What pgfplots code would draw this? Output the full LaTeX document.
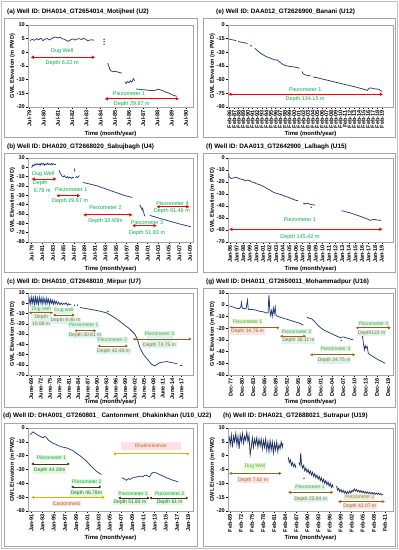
\documentclass[border=0pt]{standalone}
\usepackage{pgfplots}
\pgfplotsset{compat=1.18}
\usepackage{fontspec}
\setmainfont{Liberation Sans}
\usetikzlibrary{arrows.meta}
\definecolor{dblue}{RGB}{36,62,124}
\definecolor{egreen}{RGB}{0,176,80}
\definecolor{arbr}{RGB}{152,96,20}
\definecolor{agold}{RGB}{204,184,10}
\definecolor{aolv}{RGB}{55,60,20}
\definecolor{ngreen}{RGB}{96,168,40}
\definecolor{dbrown}{RGB}{150,110,30}
\definecolor{bgc}{RGB}{218,244,240}
\definecolor{bgp}{RGB}{252,226,226}
\definecolor{bgg}{RGB}{232,246,220}
\definecolor{orng}{RGB}{196,96,30}
\definecolor{frm}{RGB}{165,165,165}
\newcommand{\ann}{\fontsize{5}{5.8}\selectfont}
\newcommand{\annb}{\fontsize{5.5}{6.3}\selectfont}
\tikzset{
 redarr/.style={draw=red, line width=1pt, {Triangle[length=3pt,width=3.2pt]}-{Triangle[length=3pt,width=3.2pt]}},
 brarr/.style={draw=arbr, line width=0.8pt, {Triangle[length=2.6pt,width=2.8pt]}-{Triangle[length=2.6pt,width=2.8pt]}},
 goarr/.style={draw=agold, line width=0.8pt, {Triangle[length=2.6pt,width=2.8pt]}-{Triangle[length=2.6pt,width=2.8pt]}},
 olarr/.style={draw=aolv, line width=0.7pt, {Triangle[length=2.4pt,width=2.6pt]}-{Triangle[length=2.4pt,width=2.6pt]}},
 gtxt/.style={text=egreen, font=\annb, inner sep=0.6pt},
 ntxt/.style={text=ngreen, font=\ann, inner sep=0.8pt},
 dtxt/.style={text=dbrown, font=\ann, inner sep=0.8pt},
 ttl/.style={anchor=west, font=\fontsize{6.4}{7.5}\selectfont\bfseries, inner sep=0pt},
}
\pgfplotsset{
 panel/.style={
  scale only axis, width=165bp, height=82bp,
  anchor=south west, clip=false,
  axis line style={draw=frm, line width=0.4pt},
  tick align=outside, tick pos=left, major tick length=1.8bp,
  major tick style={black, line width=0.4pt},
  /pgf/number format/assume math mode=true,
  tick label style={font=\fontsize{5.6}{6.5}\selectfont\bfseries},
  xticklabel style={rotate=90, anchor=east, inner sep=1.2pt},
  yticklabel style={inner sep=1.2pt},
  xlabel={Time (month/year)},
  ylabel={GWL Elevation (m PWD)},
  every axis x label/.style={at={(axis description cs:0.5,0)}, yshift=-26.5bp, anchor=center, font=\fontsize{6}{7}\selectfont\bfseries},
  every axis y label/.style={at={(axis description cs:0,0.5)}, xshift=-15.5bp, rotate=90, anchor=center, font=\fontsize{5.6}{7}\selectfont\bfseries},
 },
 ser/.style={color=dblue, line width=0.75pt, mark=none},
 dots/.style={color=dblue, only marks, mark=*, mark size=0.45pt},
}
\begin{document}
\begin{tikzpicture}
\useasboundingbox (0,0) rectangle (399bp,-550bp);
\fill[white] (0,0) rectangle (399bp,-550bp);
% frames
\draw[frm!70, line width=0.5pt] (1.5bp,-1.5bp) rectangle (397.5bp,-548.5bp);
\foreach \t/\b in {18/137,153/272,288/407,423/546}{
 \draw[frm, line width=0.5pt] (4bp,-\t bp) rectangle (197bp,-\b bp);
 \draw[frm, line width=0.5pt] (203bp,-\t bp) rectangle (395bp,-\b bp);
}
% titles
\node[ttl] at (7bp,-12bp) {(a) Well ID: DHA014\_GT2654014\_Motijheel (U2)};
\node[ttl] at (216bp,-12bp) {(e) Well ID: DAA012\_GT2626900\_Banani (U12)};
\node[ttl] at (7bp,-147bp) {(b) Well ID: DHA020\_GT2668020\_Sabujbagh (U4)};
\node[ttl] at (206bp,-147bp) {(f) Well ID: DAA013\_GT2642900\_Lalbagh (U15)};
\node[ttl] at (7bp,-282bp) {(c) Well ID: DHA010\_GT2648010\_Mirpur (U7)};
\node[ttl] at (206bp,-282bp) {(g) Well ID: DHA011\_GT2650011\_Mohammadpur (U16)};
\node[ttl] at (3bp,-416bp) {(d) Well ID: DHA001\_GT260801\_ Cantonment\_Dhakinkhan (U10\_U22)};
\node[ttl] at (223bp,-416bp) {(h) Well ID: DHA021\_GT2688021\_Sutrapur (U19)};

% ---------------- (a)
\begin{axis}[panel, at={(28bp,-107bp)}, xmin=1979.4, xmax=1991, ymin=-20, ymax=10,
 ytick={-20,-15,...,10}, xtick={1979.5,1980.5,...,1990.5},
 xticklabels={Jul-79,Jul-80,Jul-81,Jul-82,Jul-83,Jul-84,Jul-85,Jul-86,Jul-87,Jul-88,Jul-89,Jul-90}]
\addplot[ser] coordinates {(1979.55,4.3)(1979.7,4.8)(1979.85,4.4)(1980.0,5.0)(1980.15,4.6)(1980.3,5.2)(1980.45,4.3)(1980.6,4.8)(1980.75,5.1)(1980.9,4.5)(1981.05,5.0)(1981.2,5.4)(1981.35,5.6)(1981.5,5.3)(1981.65,5.5)(1981.8,5.0)(1981.95,4.8)(1982.1,4.4)(1982.25,4.0)(1982.4,4.6)(1982.55,4.9)(1982.7,4.5)(1982.85,4.9)(1983.0,5.0)(1983.15,4.7)(1983.3,5.1)(1983.45,4.8)(1983.6,4.2)(1983.75,4.5)(1983.9,4.6)(1984.05,4.4)};
\addplot[dots] coordinates {(1984.75,4.8)(1984.75,3.9)(1984.75,3.0)};
\addplot[ser] coordinates {(1985.0,-4.0)(1985.08,-5.0)(1985.15,-6.2)(1985.25,-6.8)(1985.4,-7.1)(1985.55,-6.9)(1985.7,-7.2)(1985.85,-7.4)(1986.0,-7.6)};
\addplot[ser] coordinates {(1986.22,-10.8)(1986.3,-11.4)(1986.4,-10.7)(1986.5,-11.1)(1986.6,-10.4)(1986.7,-10.9)(1986.8,-9.6)(1986.9,-10.4)};
\addplot[ser] coordinates {(1987.0,-13.4)(1987.3,-13.6)(1987.6,-13.7)(1987.9,-13.9)(1988.2,-14.0)(1988.4,-13.8)(1988.55,-13.5)(1988.7,-13.7)(1988.9,-14.1)(1989.1,-14.6)(1989.3,-14.9)(1989.45,-15.3)(1989.6,-15.7)(1989.75,-15.9)(1989.85,-16.1)};
\draw[redarr] (1979.6,-1.8) -- (1984.1,-1.8);
\node[gtxt] at (1981.8,0.4) {Dug Well};
\node[gtxt] at (1981.8,-3.9) {Depth 6.22 m};
\draw[redarr] (1984.8,-17) -- (1990.0,-17);
\node[gtxt] at (1986.5,-15.1) {Piezometer 1};
\node[gtxt] at (1986.7,-19.1) {Depth 29.87 m};
\end{axis}

% ---------------- (e)
\begin{axis}[panel, at={(228bp,-107bp)}, xmin=1985.8, xmax=2021.5, ymin=-90, ymax=0,
 ytick={-90,-75,...,0}, xtick={1986.1,1987.1,...,2019.1},
 xticklabels={Feb-86,Feb-87,Feb-88,Feb-89,Feb-90,Feb-91,Feb-92,Feb-93,Feb-94,Feb-95,Feb-96,Feb-97,Feb-98,Feb-99,Feb-00,Feb-01,Feb-02,Feb-03,Feb-04,Feb-05,Feb-06,Feb-07,Feb-08,Feb-09,Feb-10,Feb-11,Feb-12,Feb-13,Feb-14,Feb-15,Feb-16,Feb-17,Feb-18,Feb-19}]
\addplot[ser] coordinates {(1985.9,-15.2)(1986.3,-15.8)(1986.8,-16.3)(1987.3,-16.8)(1987.6,-17.2)};
\addplot[ser] coordinates {(1988.0,-18.0)(1988.5,-18.8)(1989.0,-19.0)(1989.5,-19.6)(1990.0,-20.5)};
\addplot[ser] coordinates {(1990.6,-22)(1991.0,-23.5)};
\addplot[ser] coordinates {(1991.6,-25.5)(1992.0,-27.5)(1992.5,-29.5)(1993.0,-31.5)(1993.5,-33)(1994.0,-34.5)(1994.5,-35.5)(1995.0,-36.5)(1995.5,-37.5)(1996.0,-38.5)(1996.4,-38.2)(1996.8,-40)(1997.2,-41.5)(1997.6,-43)(1998.0,-44)(1998.5,-44.8)(1999.0,-45.3)(1999.5,-45.6)(2000.0,-46)(2000.5,-46.5)(2001.0,-47)(2001.3,-47.5)};
\addplot[ser] coordinates {(2001.8,-51)(2002.0,-53)(2002.3,-54.3)(2002.7,-55)(2003.2,-55.5)(2003.7,-56)};
\addplot[ser] coordinates {(2004.2,-57)(2004.7,-57.5)(2005.2,-58)(2005.7,-58.7)(2006.2,-59.3)(2006.7,-59.8)(2007.2,-60.5)(2007.7,-61)(2008.2,-61.7)(2008.7,-62.3)(2009.2,-63)(2009.7,-63.5)(2010.2,-64.2)(2010.7,-64.8)(2011.2,-65.5)(2011.7,-66)(2012.2,-66.6)(2012.7,-67.2)(2013.2,-67.8)(2013.7,-68.5)(2014.2,-69.2)(2014.7,-69.8)(2015.2,-70.5)(2015.6,-71.2)(2016.0,-71.8)(2016.2,-70)(2016.5,-69)(2016.9,-69.3)(2017.3,-69.8)(2017.7,-70.2)(2018.1,-70.3)(2018.5,-70.8)(2018.8,-71.8)(2019.1,-73)};
\draw[redarr] (1985.9,-76) -- (2019.3,-76);
\node[gtxt] at (2002.5,-70.6) {Piezometer 1};
\node[gtxt] at (2002.5,-81.7) {Depth 134.15 m};
\end{axis}

% ---------------- (b)
\begin{axis}[panel, at={(28bp,-242bp)}, height=84bp, xmin=1978.8, xmax=2010.1, ymin=-80, ymax=10,
 ytick={-80,-70,...,10}, xtick={1979.5,1981.5,...,2009.5},
 xticklabels={Jul-79,Jul-81,Jul-83,Jul-85,Jul-87,Jul-89,Jul-91,Jul-93,Jul-95,Jul-97,Jul-99,Jul-01,Jul-03,Jul-05,Jul-07,Jul-09}]
\addplot[ser] coordinates {(1979.5,-0.5)(1979.7,2.5)(1979.9,1.5)(1980.1,3.5)(1980.3,2.5)(1980.5,4)(1980.7,2.8)(1980.9,3.8)(1981.1,2.2)(1981.3,4.5)(1981.5,3.2)(1981.7,4)(1981.9,2.2)(1982.1,3.5)(1982.3,2.8)(1982.5,4.5)(1982.7,3)(1982.9,3.8)(1983.1,2.6)(1983.3,4.2)(1983.5,3.0)(1983.7,3.8)(1983.9,2.8)(1984.1,3.4)};
\addplot[ser] coordinates {(1984.7,-3)(1984.9,-6)(1985.1,-8)(1985.3,-9.5)(1985.5,-10)(1985.7,-9)(1985.9,-10.5)(1986.1,-11)(1986.3,-10)(1986.5,-11.5)(1986.7,-10.5)(1986.9,-11)(1987.1,-12)(1987.3,-10.5)(1987.5,-11)};
\addplot[dots] coordinates {(1987.65,-2)(1987.65,-4)};
\addplot[ser] coordinates {(1987.8,-11)(1988.0,-10)(1988.2,-11)(1988.4,-9.5)(1988.6,-9)};
\addplot[ser] coordinates {(1989.2,-16.2)(1990,-17.2)(1991,-18.5)(1992,-20)(1993,-22)(1994,-24)(1995,-26)(1996,-28)(1997,-30)(1998,-31.5)(1998.6,-32.3)};
\addplot[ser] coordinates {(2000.0,-40)(2000.15,-42)(2000.3,-43.5)(2000.45,-45.5)(2000.55,-44)(2000.7,-47.5)(2000.85,-50.5)(2000.95,-52.5)};
\addplot[ser] coordinates {(2001.9,-51.5)(2003,-53.3)(2004,-55)(2005,-56.6)(2006,-58.2)(2007,-59.8)(2008,-61.3)(2009,-62.7)(2009.7,-63.6)};
\draw[redarr] (1979.5,-12.5) -- (1984.2,-12.5);
\node[gtxt] at (1981.7,-7.3) {Dug Well};
\node[gtxt] at (1981.1,-16.5) {Depth};
\node[gtxt] at (1981.5,-25.2) {6.78 m};
\draw[redarr] (1984.2,-30.4) -- (1988.7,-30.4);
\node[gtxt] at (1987.0,-23.6) {Piezometer 1};
\node[gtxt] at (1986.8,-36) {Depth 29.87 m};
\draw[redarr] (1989.3,-51) -- (1998.6,-51);
\node[gtxt] at (1993.5,-43.2) {Piezometer 2};
\node[gtxt] at (1993.5,-57.2) {Depth 32.93m};
\draw[redarr] (1998.6,-62.5) -- (2003.2,-62.5);
\node[gtxt] at (2001.4,-59) {Piezometer 3};
\node[gtxt] at (2001.4,-70.7) {Depth 51.83 m};
\draw[redarr] (2003.2,-42.2) -- (2009.4,-42.2);
\node[gtxt] at (2006.2,-38.4) {Piezometer 4};
\node[gtxt] at (2006.1,-46.6) {Depth 91.46 m};
\end{axis}

% ---------------- (f)
\begin{axis}[panel, at={(228bp,-242bp)}, height=84bp, xmin=1995.7, xmax=2020.7, ymin=-70, ymax=0,
 ytick={-70,-60,...,0}, xtick={1996,1997,...,2019},
 xticklabels={Jan-96,Jan-97,Jan-98,Jan-99,Jan-00,Jan-01,Jan-02,Jan-03,Jan-04,Jan-05,Jan-06,Jan-07,Jan-08,Jan-09,Jan-10,Jan-11,Jan-12,Jan-13,Jan-14,Jan-15,Jan-16,Jan-17,Jan-18,Jan-19}]
\addplot[ser] coordinates {(1995.8,-13)(1995.9,-16)(1996.2,-17)(1996.6,-16.5)(1997.0,-16)(1997.3,-17)(1997.6,-17.5)(1998.0,-18)(1998.3,-19)(1998.6,-18.5)(1999.0,-18.8)(1999.3,-20)(1999.7,-20.5)(2000.0,-21.5)(2000.4,-22)(2000.8,-23)(2001.2,-24)(2001.6,-25.5)(2002.0,-26.5)(2002.4,-28)(2002.8,-29)(2003.2,-29.7)(2003.6,-30.3)(2004.0,-31)(2004.4,-32)(2004.8,-32.7)(2005.2,-33.5)(2005.6,-34.5)(2006.0,-35.3)(2006.3,-35.5)};
\addplot[ser] coordinates {(2007.1,-37.5)(2007.4,-38.3)(2007.7,-37.6)(2008.0,-38.2)(2008.3,-38.8)(2008.6,-39)(2008.9,-39.3)};
\addplot[dots] coordinates {(2008.3,-41)};
\addplot[ser] coordinates {(2012.9,-44)(2013.3,-44.3)(2013.7,-45)(2014.1,-45.5)(2014.5,-46.3)(2014.9,-47)(2015.3,-47.8)(2015.7,-48.5)(2016.1,-49.3)(2016.5,-50.2)(2016.9,-51)(2017.2,-52)(2017.5,-51.5)(2017.8,-51.2)(2018.1,-51.4)(2018.5,-51.8)(2018.9,-52)};
\draw[redarr] (1995.9,-59.4) -- (2019.1,-59.4);
\node[gtxt] at (2006.6,-51) {Piezometer 1};
\node[gtxt] at (2006.6,-65.6) {Depth 145.42 m};
\end{axis}

% ---------------- (c)
\begin{axis}[panel, at={(28bp,-375bp)}, xmin=1968.4, xmax=2021.1, ymin=-70, ymax=10,
 ytick={-70,-60,...,10}, xtick={1969.45,1972.45,...,2017.45},
 xticklabels={June-69,June-72,June-75,June-78,June-81,June-84,June-87,June-90,June-93,June-96,June-99,June-02,June-05,June-08,June-11,June-14,June-17}]
\node[fill=bgc, minimum width=26bp, minimum height=12bp, inner sep=0pt] at (2010.4,-35) {};
\addplot[ser] coordinates {(1968.7,-1)(1969.0,5)(1969.3,-1)(1969.6,6)(1969.9,0)(1970.2,5.5)(1970.5,-1.5)(1970.8,6)(1971.1,0)(1971.4,5)(1971.7,-2)(1972.0,6)(1972.3,0.5)(1972.6,5)(1972.9,-1)(1973.2,5.5)(1973.5,0)(1973.8,4.5)(1974.1,-1)(1974.4,5)(1974.7,0)(1975.0,4)(1975.3,-1)(1975.6,3.5)(1975.9,0)(1976.2,3)(1976.5,-1)(1976.8,2.5)(1977.1,-0.5)(1977.4,2)(1977.8,-1)(1978.2,1)(1978.6,-1.5)(1979,0.5)(1979.4,-1.5)(1979.8,0)(1980.2,-1)(1980.6,0.5)(1981,-2)(1981.4,-0.5)(1981.8,-1.5)(1982.2,-1)};
\addplot[dots] coordinates {(1983.3,-2)(1984.2,-1.8)};
\addplot[ser] coordinates {(1985.0,-4)(1985.45,-4.4)(1987.3,-5.4)(1989.2,-6.4)(1991.3,-7.7)(1993.45,-9.3)(1995.0,-12)(1996.65,-15.2)(1998.8,-20.2)(2000.9,-25.1)(2002.5,-30)(2003.3,-34.9)(2004.1,-43.1)(2005.2,-49.7)(2006.8,-55.6)(2007.85,-59.5)(2008.9,-61.1)(2010.5,-57.9)(2012.65,-56.9)(2014.8,-58.2)(2016.0,-58.9)};
\addplot[ser] coordinates {(2016.9,-60.8)(2017.8,-60.5)};
\addplot[dots] coordinates {(1993.9,-8)};
\draw[brarr] (1968.7,-9.2) -- (1976.4,-9.2);
\node[ntxt, fill=bgc] at (1972.6,-5.4) {Dug well};
\node[dtxt, fill=bgc, align=center] at (1972.6,-16.2) {Depth\\[1bp]10.68 m};
\draw[brarr] (1976.4,-11.5) -- (1983.3,-11.5);
\node[ntxt, fill=bgc] at (1979.9,-7.2) {Dug well};
\node[dtxt, fill=bgc] at (1980.4,-17) {Depth 9.48 m};
\draw[brarr] (1983.3,-26.8) -- (1990.2,-26.8);
\node[ntxt, fill=bgc] at (1986.2,-21.2) {Piezometer 1};
\node[dtxt, fill=bgc] at (1986.6,-31) {Depth 30.81 m};
\draw[brarr] (1990.7,-41.7) -- (2000.3,-41.7);
\node[ntxt, fill=bgc] at (1995.3,-35.9) {Piezometer 2};
\node[dtxt, fill=bgc] at (1995.7,-46.6) {Depth 42.48 m};
\draw[brarr] (2001.9,-34.9) -- (2020.6,-34.9);
\node[ntxt, fill=bgc] at (2010.4,-29.3) {Piezometer 3};
\node[dtxt, fill=bgc] at (2010.4,-40.7) {Depth 74.75 m};
\end{axis}

% ---------------- (g)
\begin{axis}[panel, at={(228bp,-375bp)}, xmin=1977.2, xmax=2021.2, ymin=-60, ymax=10,
 ytick={-60,-50,...,10}, xtick={1977.95,1980.95,...,2019.95},
 xticklabels={Dec-77,Dec-80,Dec-83,Dec-86,Dec-89,Dec-92,Dec-95,Dec-98,Dec-01,Dec-04,Dec-07,Dec-10,Dec-13,Dec-16,Dec-19}]
\addplot[ser] coordinates {(1977.6,-1)(1978.5,-2)(1979.5,-3)(1980.2,-3.5)(1980.6,-2)(1980.8,2)(1981,-3)(1982,-3.5)(1982.4,4)(1982.6,-4)(1983.5,-4)(1984.5,-4.5)(1985.5,-5.5)(1986.5,-6)(1987.5,-7)(1987.9,-7)(1988.0,2)(1988.1,8)(1988.2,5)(1988.3,-2)(1988.5,-9)(1988.8,-5)(1989,-10)(1989.3,-3)(1989.5,-8)(1989.8,-2)(1990,-9)(1990.5,-10)(1991.5,-11)(1992.5,-12)(1993.5,-13)(1994.5,-14)(1995.5,-15)(1996.5,-16)(1997.3,-17.5)};
\addplot[ser] coordinates {(1998.2,-10.5)(1998.8,-11.5)(1999.5,-12)(2000.2,-14)(2001,-17)(2002,-20)(2003,-22)(2004,-23.5)(2005,-25)(2006,-26.5)(2007,-28)(2008,-27.5)(2009,-28.5)(2010,-29.5)(2010.6,-30)};
\addplot[dots] coordinates {(2007.4,-30.5)};
\addplot[ser] coordinates {(2012.9,-28)(2013.1,-27)(2013.3,-33)(2013.6,-38.4)(2013.8,-35)(2014.0,-37)(2014.3,-35.5)(2014.6,-41.3)(2015,-42.5)(2016,-44.5)(2017,-46.5)(2018.2,-48.5)(2019.1,-50)};
\draw[brarr] (1977.6,-19.7) -- (1990.9,-19.7);
\node[ntxt, fill=bgg] at (1982.4,-14.5) {Piezometer 1};
\node[dtxt, fill=bgp] at (1982.4,-22.8) {Depth 34.76 m};
\draw[brarr] (1991.1,-26.9) -- (1998.0,-26.9);
\node[ntxt, fill=bgc] at (1995.5,-23.1) {Piezometer 2};
\node[dtxt, fill=bgc] at (1996.0,-30.6) {Depth 38.11 m};
\draw[brarr] (1999.1,-42.7) -- (2011.1,-42.7);
\node[ntxt, fill=bgc] at (2005.9,-37.6) {Piezometer 3};
\node[dtxt, fill=bgc] at (2005.5,-47.6) {Depth 34.75 m};
\draw[brarr] (2011.3,-19.7) -- (2020.6,-19.7);
\node[ntxt, fill=bgc] at (2016,-16.2) {Piezometer 4};
\node[dtxt, fill=bgc] at (2015.5,-24) {Depth122 m};
\end{axis}

% ---------------- (d)
\begin{axis}[panel, at={(28bp,-511bp)}, height=83bp, xmin=1990.4, xmax=2019.85, ymin=-60, ymax=0,
 ytick={-60,-50,...,0}, xtick={1991,1993,...,2019},
 xticklabels={Jan-91,Jan-93,Jan-95,Jan-97,Jan-99,Jan-01,Jan-03,Jan-05,Jan-07,Jan-09,Jan-11,Jan-13,Jan-15,Jan-17,Jan-19}]
\node[fill=bgp, minimum width=60bp, minimum height=8bp, inner sep=0pt] at (2012.3,-12.8) {};
\addplot[ser] coordinates {(1990.8,-4.7)(1991.0,-4.0)(1991.3,-2.8)(1991.55,-3.5)(1991.8,-4.2)(1992.1,-5.0)(1992.5,-5.9)(1992.8,-6.6)(1993.1,-7.1)(1993.35,-6.2)(1993.6,-6.4)(1994.0,-8.6)(1994.4,-9.8)(1994.9,-11.1)(1995.3,-11.6)(1995.8,-12.8)(1996.2,-13.2)(1996.65,-13.9)(1997.1,-14.2)(1997.5,-14.7)(1998.1,-15.8)(1998.5,-16.5)(1999.0,-18.2)(1999.6,-19.8)(2000.2,-21.7)(2000.8,-23.8)(2001.4,-26.5)(2002.0,-28.8)(2002.6,-31.2)(2003.1,-32.6)(2003.5,-33.6)};
\addplot[ser] coordinates {(2007.1,-35.9)(2007.5,-36.6)(2008.0,-37.8)(2008.3,-36.5)(2008.6,-37.2)(2008.9,-36.4)(2009.3,-35.6)(2009.75,-35.5)(2010.1,-35.0)(2010.6,-34.8)(2010.9,-35.4)(2011.2,-34.3)(2011.5,-34.0)(2011.8,-34.8)(2012.1,-35.3)(2012.4,-33.2)(2012.6,-32.4)(2013.0,-31.9)(2013.4,-32.7)(2013.9,-33.6)(2014.5,-34.8)(2015.1,-35.9)(2015.7,-36.9)(2016.3,-37.8)(2016.8,-38.4)(2017.2,-39.0)};
\draw[goarr] (2005.6,-18.7) -- (2019.2,-18.7);
\node[text=orng, font=\ann] at (2012.3,-12.8) {Dhakhinkahan};
\draw[olarr] (1991.0,-26) -- (1997.85,-26);
\node[text=egreen, font=\ann, fill=bgg, inner sep=0.8pt] at (1994.6,-21.3) {Piezometer 1};
\node[text=egreen!70!black, font=\ann, fill=bgg, inner sep=0.8pt] at (1994.3,-30.7) {Depth 44.20m};
\draw[olarr] (1998.1,-42.6) -- (2003.5,-42.6);
\node[text=egreen, font=\ann, fill=bgg, inner sep=0.8pt] at (2000.9,-38.8) {Piezometer 2};
\node[text=egreen!70!black, font=\ann, fill=bgg, inner sep=0.8pt] at (2000.8,-47.3) {Depth 46.78m};
\draw[goarr] (1991.0,-50.1) -- (2004.1,-50.1);
\node[text=orng, font=\ann, fill=bgp, inner sep=0.8pt] at (1997.25,-54.8) {Cantonment};
\draw[olarr] (2006.5,-50.6) -- (2012.1,-50.6);
\node[text=egreen, font=\ann, fill=bgg, inner sep=0.8pt] at (2009.15,-47.3) {Piezometer 1};
\node[text=egreen!70!black, font=\ann, fill=bgg, inner sep=0.8pt] at (2008.6,-53.7) {Depth 51.83 m};
\draw[olarr] (2012.1,-50.6) -- (2019.0,-50.6);
\node[text=egreen, font=\ann, fill=bgg, inner sep=0.8pt] at (2015.7,-47.3) {Piezometer 2};
\node[text=egreen!70!black, font=\ann, fill=bgg, inner sep=0.8pt] at (2015.7,-53.7) {Depth 61 m};
\end{axis}

% ---------------- (h)
\begin{axis}[panel, at={(228bp,-511bp)}, height=83bp, xmin=1968.6, xmax=2013.3, ymin=-20, ymax=10,
 ytick={-20,-15,...,10}, xtick={1969.1,1972.1,...,2011.1},
 xticklabels={Feb-69,Feb-72,Feb-75,Feb-78,Feb-81,Feb-84,Feb-87,Feb-90,Feb-93,Feb-96,Feb-99,Feb-02,Feb-05,Feb-08,Feb-11}]
\addplot[ser, color=dblue!80!black] coordinates {(1968.9,7)(1969.2,4)(1969.5,7.5)(1969.8,3)(1970.1,7)(1970.4,5)(1970.7,8)(1971.0,4)(1971.3,7)(1971.6,2.5)(1971.9,7.5)(1972.2,5)(1972.5,8)(1972.8,4.5)(1973.1,7)(1973.4,5.5)(1973.7,8.5)(1974.0,5)(1974.3,7.5)(1974.6,0.3)(1974.9,3)(1975.2,6.5)(1975.5,3)(1975.8,6)(1976.1,4)(1976.4,6.5)(1976.7,3)(1977.0,6)(1977.3,3.5)(1977.6,6)(1977.9,2.5)(1978.2,5.5)(1978.5,3)(1978.8,6)(1979.1,2)(1979.4,5)(1979.7,1.5)(1980.0,5.5)(1980.3,2)(1980.6,5)(1980.9,1)(1981.2,4.5)(1981.5,2)(1981.8,5)(1982.1,1.5)(1982.4,4)(1982.7,2.5)(1983.0,5)(1983.3,3)(1983.5,4.5)};
\addplot[ser, color=dblue!80!black] coordinates {(1984.9,-0.5)(1985.2,-2.5)(1985.5,-1.5)(1985.8,-3.5)(1986.1,-2.5)(1986.4,-4)(1986.7,-3)(1987.0,-4.5)};
\addplot[ser, color=dblue!80!black] coordinates {(1987.8,-2.5)(1988.1,-3.5)(1988.3,1)(1988.5,-3)(1988.8,-4.5)(1989.1,-3.5)(1989.4,-5.5)(1989.7,-4.5)(1990.0,-6)(1990.3,-5)(1990.6,-6.5)(1990.9,-5.5)(1991.2,-7)(1991.5,-6)(1991.8,-7.5)(1992.1,-6.5)(1992.4,-8)(1992.7,-7)(1993.0,-8.5)(1993.3,-7.5)(1993.6,-9)(1993.9,-8)(1994.2,-9.5)(1994.5,-8.5)(1994.8,-10)(1995.1,-9)(1995.4,-10.5)(1995.7,-9.5)(1996.0,-11)(1996.3,-10)(1996.6,-11.5)(1996.9,-10.5)(1997.1,-11.5)};
\addplot[dots] coordinates {(1989.2,-8.2)};
\addplot[ser, color=dblue!80!black] coordinates {(1998.0,-11)(1998.3,-12.5)(1998.6,-11.8)(1998.9,-13)(1999.2,-12.2)(1999.5,-13.3)(1999.8,-12.5)(2000.1,-13.5)(2000.4,-12.8)(2000.7,-13.8)(2001.0,-13)(2001.3,-13.6)(2001.6,-12.7)(2001.9,-13.5)(2002.2,-12.5)(2002.5,-13)(2002.8,-12)(2003.1,-12.8)(2003.4,-12.2)(2003.7,-13)(2004.0,-12.5)(2004.3,-13.2)(2004.6,-12.6)(2004.9,-13.4)(2005.2,-12.8)(2005.5,-13.5)(2005.8,-13)(2006.1,-13.6)(2006.4,-13.1)(2006.7,-13.7)(2007.0,-13.2)(2007.3,-13.8)(2007.6,-13.3)(2007.9,-13.9)(2008.2,-13.4)(2008.5,-14)(2008.8,-13.5)(2009.1,-14)(2009.4,-13.6)(2009.7,-14.1)(2010.0,-13.7)(2010.3,-14.2)(2010.6,-14)};
\draw[brarr] (1968.9,-6.4) -- (1983.1,-6.4);
\node[ntxt, fill=bgg] at (1975.9,-3.9) {Dug Well};
\node[dtxt, fill=bgp] at (1975.4,-8.8) {Depth 7.62 m};
\draw[brarr] (1984.9,-13.25) -- (1997.1,-13.25);
\node[ntxt, fill=bgc] at (1990.8,-11.4) {Piezometer 1};
\node[dtxt, fill=bgc] at (1991.0,-15.75) {Depth 25.94 m};
\draw[brarr] (1998.45,-16.6) -- (2011.1,-16.6);
\node[ntxt, fill=bgp] at (2004.3,-14.9) {Piezometer 2};
\node[dtxt, fill=bgp] at (2004.3,-18.2) {Depth 42.07 m};
\end{axis}
\end{tikzpicture}
\end{document}
